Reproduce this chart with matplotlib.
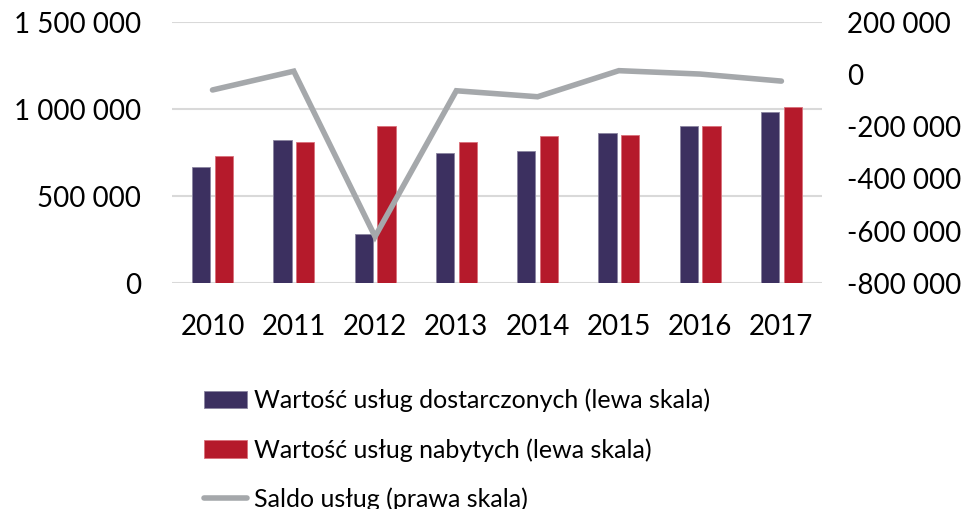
import numpy as np
import matplotlib.pyplot as plt
from matplotlib.ticker import FuncFormatter

# === DATA ===
years = ["2010", "2011", "2012", "2013", "2014", "2015", "2016", "2017"]
delivered = [670000, 822000, 285000, 751000, 760000, 862000, 904000, 985000]
acquired = [733000, 812000, 902000, 812000, 847000, 851000, 904000, 1011000]
balance = [-59000, 13000, -621000, -62000, -85000, 15000, 2000, -25000]

# === STYLE ===
plt.rcParams['font.family'] = ['Lato', 'DejaVu Sans']
plt.rcParams['font.size'] = 20
dark = "#3C3060"
red = "#B51A2B"
grey = "#A5A8AB"


def space_fmt(v, pos):
    s = f"{int(round(v)):,}".replace(",", " ")
    return s


fig = plt.figure(figsize=(9.71, 5.09), dpi=100)
ax1 = fig.add_axes([0.177, 0.4434, 0.6696, 0.5126])

x = np.arange(len(years))
w = 0.225
b1 = ax1.bar(x - 0.14, delivered, width=w, color=dark, edgecolor="#8A84A0", linewidth=0.6,
             label="Wartość usług dostarczonych (lewa skala)", zorder=2)
b2 = ax1.bar(x + 0.14, acquired, width=w, color=red, edgecolor="#D9707A", linewidth=0.6,
             label="Wartość usług nabytych (lewa skala)", zorder=2)

ax1.set_xlim(-0.5, len(years) - 0.5)
ax1.set_ylim(0, 1500000)
ax1.set_yticks([0, 500000, 1000000, 1500000])
ax1.yaxis.set_major_formatter(FuncFormatter(space_fmt))
ax1.set_xticks(x)
ax1.set_xticklabels(years)
ax1.grid(axis='y', color="#D9D9D9", linewidth=1.5, zorder=0)
ax1.set_axisbelow(True)
ax1.tick_params(axis='y', length=0, pad=22)
ax1.tick_params(axis='x', length=0, pad=22)
for s in ax1.spines.values():
    s.set_visible(False)

# === Right axis: balance
ax2 = ax1.twinx()
ln, = ax2.plot(x, balance, color=grey, linewidth=4, solid_capstyle='round',
               solid_joinstyle='miter', label="Saldo usług (prawa skala)", zorder=3)
ax2.set_ylim(-800000, 200000)
ax2.set_yticks([-800000, -600000, -400000, -200000, 0, 200000])
ax2.yaxis.set_major_formatter(FuncFormatter(space_fmt))
ax2.tick_params(axis='y', length=0, pad=18)
for s in ax2.spines.values():
    s.set_visible(False)

fig.legend(handles=[b1, b2, ln], loc='upper left', bbox_to_anchor=(0.21, 0.236),
           frameon=False, fontsize=18, handlelength=1.72, handletextpad=0.28,
           labelspacing=1.03, borderpad=0, borderaxespad=0)

plt.savefig("out.png", dpi=100)
